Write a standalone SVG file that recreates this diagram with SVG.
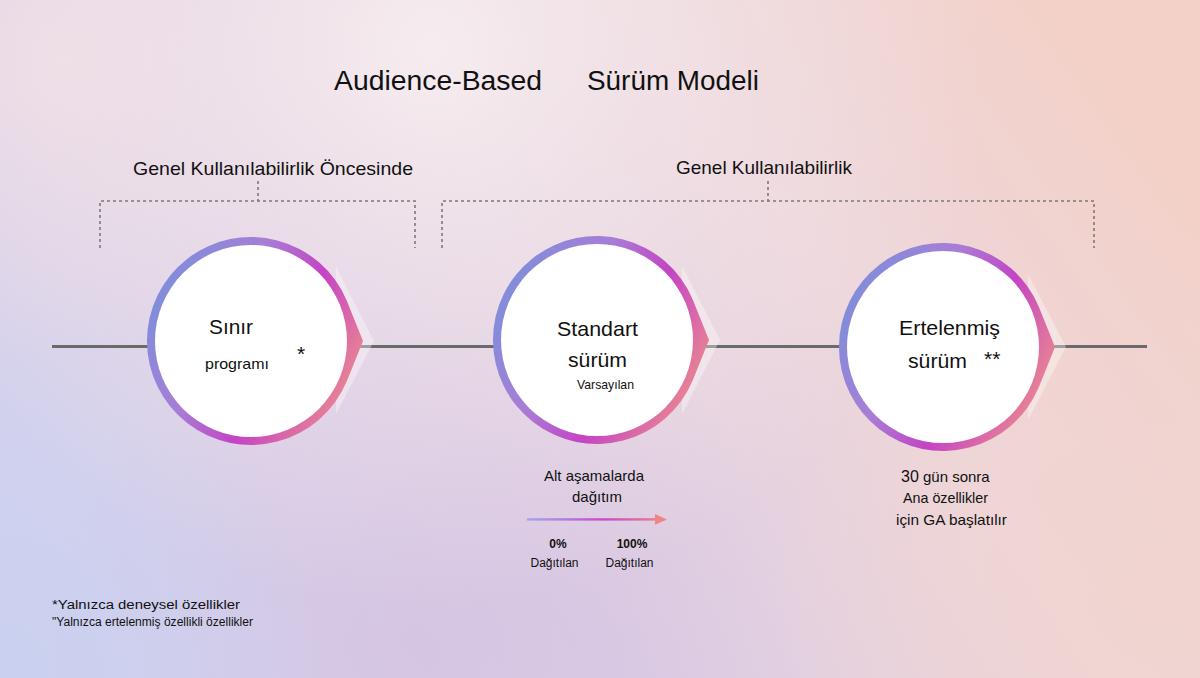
<svg xmlns="http://www.w3.org/2000/svg" width="1200" height="678" viewBox="0 0 1200 678">
<defs>
<linearGradient id="bg" x1="0" y1="0.7" x2="1" y2="0.3">
<stop offset="0" stop-color="#d2d2ee"/>
<stop offset="0.35" stop-color="#dccce4"/>
<stop offset="0.7" stop-color="#edd6db"/>
<stop offset="1" stop-color="#f3d1c8"/>
</linearGradient>
<radialGradient id="glow" cx="430" cy="50" r="560" gradientUnits="userSpaceOnUse">
<stop offset="0" stop-color="#f7eef0" stop-opacity="0.95"/>
<stop offset="0.55" stop-color="#f3e6ea" stop-opacity="0.45"/>
<stop offset="1" stop-color="#f3e6ea" stop-opacity="0"/>
</radialGradient>
<radialGradient id="pinktl" cx="60" cy="60" r="300" gradientUnits="userSpaceOnUse">
<stop offset="0" stop-color="#efdde5" stop-opacity="0.9"/>
<stop offset="1" stop-color="#efdde5" stop-opacity="0"/>
</radialGradient>
<radialGradient id="peachbr" cx="1150" cy="600" r="380" gradientUnits="userSpaceOnUse">
<stop offset="0" stop-color="#f1d4cf" stop-opacity="0.9"/>
<stop offset="1" stop-color="#f1d4cf" stop-opacity="0"/>
</radialGradient>
<radialGradient id="purp" cx="420" cy="650" r="380" gradientUnits="userSpaceOnUse">
<stop offset="0" stop-color="#d4c1e1" stop-opacity="0.7"/>
<stop offset="1" stop-color="#d4c1e1" stop-opacity="0"/>
</radialGradient>
<radialGradient id="blue" cx="0" cy="678" r="320" gradientUnits="userSpaceOnUse">
<stop offset="0" stop-color="#c9d0f0" stop-opacity="0.9"/>
<stop offset="1" stop-color="#c9d0f0" stop-opacity="0"/>
</radialGradient>
<linearGradient id="ring" x1="0" y1="0.25" x2="1" y2="0.75">
<stop offset="0" stop-color="#7b90db"/>
<stop offset="0.35" stop-color="#a87dd6"/>
<stop offset="0.62" stop-color="#c444c4"/>
<stop offset="1" stop-color="#f0908a"/>
</linearGradient>
<linearGradient id="arr" x1="527" y1="0" x2="667" y2="0" gradientUnits="userSpaceOnUse">
<stop offset="0" stop-color="#a3a6ea"/>
<stop offset="0.55" stop-color="#c84ac8"/>
<stop offset="1" stop-color="#f08585"/>
</linearGradient>
<path id="ringShape" d="M112,0 L95.7,-40.6 A104,104 0 1 0 95.7,40.6 Z"/>
</defs>
<style>
text{font-family:"Liberation Sans",Arial,sans-serif;fill:#111}
.title{font-size:27px}
.hdr{font-size:19px}
.big{font-size:21px}
.mid{font-size:15px}
.sm{font-size:12px}
.dash{fill:none;stroke:#7a7a7a;stroke-width:1.6;stroke-dasharray:3 3}
.chev{fill:#ffffff;fill-opacity:0.35}
.inner{fill:#ffffff}
</style>
<rect width="1200" height="678" fill="url(#bg)"/>
<rect width="1200" height="678" fill="url(#purp)"/>
<rect width="1200" height="678" fill="url(#blue)"/>
<rect width="1200" height="678" fill="url(#peachbr)"/>
<rect width="1200" height="678" fill="url(#pinktl)"/>
<rect width="1200" height="678" fill="url(#glow)"/>

<g id="title">
<text class="title" x="334" y="90" textLength="208" lengthAdjust="spacingAndGlyphs">Audience-Based</text>
<text class="title" x="587" y="90" textLength="172" lengthAdjust="spacingAndGlyphs">Sürüm Modeli</text>
</g>

<g id="group-pre-ga">
<text class="hdr" x="133" y="175" textLength="280" lengthAdjust="spacingAndGlyphs">Genel Kullanılabilirlik Öncesinde</text>
<path class="dash" d="M100,248 V201 H415 V248 M258,181 V201"/>
</g>
<g id="group-ga">
<text class="hdr" x="676" y="174" textLength="176" lengthAdjust="spacingAndGlyphs">Genel Kullanılabilirlik</text>
<path class="dash" d="M442,248 V201 H1094 V248 M768,181 V201"/>
</g>

<g id="connectors">
<line x1="52" y1="346.5" x2="1147" y2="346.5" stroke="#6a6a6a" stroke-width="3"/>
</g>

<g id="node-sinir">
<polygon class="chev" points="336,267 374,341 336,414"/>
<use href="#ringShape" x="251" y="341" fill="url(#ring)"/>
<circle class="inner" cx="251" cy="341" r="96"/>
<text class="big" x="209" y="334" textLength="44" lengthAdjust="spacingAndGlyphs">Sınır</text>
<text class="mid" x="205" y="369" textLength="64" lengthAdjust="spacingAndGlyphs">programı</text>
<text style="font-size:21px" x="297" y="361">*</text>
</g>

<g id="node-standart">
<polygon class="chev" points="682,266 720,340 682,414"/>
<use href="#ringShape" x="597" y="340" fill="url(#ring)"/>
<circle class="inner" cx="597" cy="340" r="96"/>
<text class="big" x="557" y="336" textLength="81" lengthAdjust="spacingAndGlyphs">Standart</text>
<text class="big" x="568" y="367" textLength="59" lengthAdjust="spacingAndGlyphs">sürüm</text>
<text style="font-size:13px" x="577" y="389" textLength="57" lengthAdjust="spacingAndGlyphs">Varsayılan</text>
</g>

<g id="node-ertelenmis">
<polygon class="chev" points="1028,274 1066,347 1028,420"/>
<use href="#ringShape" x="943" y="347" fill="url(#ring)"/>
<circle class="inner" cx="943" cy="347" r="96"/>
<text class="big" x="899" y="335" textLength="101" lengthAdjust="spacingAndGlyphs">Ertelenmiş</text>
<text class="big" x="908" y="368" textLength="59" lengthAdjust="spacingAndGlyphs">sürüm</text>
<text style="font-size:21px" x="984" y="366">**</text>
</g>

<g id="rollout">
<text class="mid" x="594" y="481" text-anchor="middle">Alt aşamalarda</text>
<text class="mid" x="597" y="502" text-anchor="middle">dağıtım</text>
<rect x="527" y="518.2" width="130" height="2.4" fill="url(#arr)"/>
<polygon points="655,514 667,519.4 655,524.8" fill="#f08585"/>
<text class="sm" x="558" y="548" text-anchor="middle" style="font-weight:bold">0%</text>
<text class="sm" x="632" y="548" text-anchor="middle" style="font-weight:bold">100%</text>
<text class="sm" x="554.5" y="567" text-anchor="middle">Dağıtılan</text>
<text class="sm" x="629.5" y="567" text-anchor="middle">Dağıtılan</text>
</g>

<g id="delayed-note">
<text class="mid" x="901" y="482"><tspan style="font-size:16px">30</tspan> gün sonra</text>
<text class="mid" x="903" y="503" textLength="85" lengthAdjust="spacingAndGlyphs">Ana özellikler</text>
<text class="mid" x="896" y="525" textLength="111" lengthAdjust="spacingAndGlyphs">için GA başlatılır</text>
</g>

<g id="footnotes">
<text class="sm" x="52" y="609" textLength="188" lengthAdjust="spacingAndGlyphs">*Yalnızca deneysel özellikler</text>
<text class="sm" x="52" y="626" textLength="201" lengthAdjust="spacingAndGlyphs">"Yalnızca ertelenmiş özellikli özellikler</text>
</g>
</svg>
